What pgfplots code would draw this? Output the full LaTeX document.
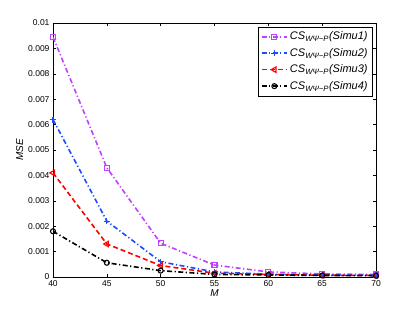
\documentclass[border=0pt]{standalone}
\usepackage{fontspec}
\setmainfont{Liberation Sans}
\usepackage{pgfplots}
\pgfplotsset{compat=1.18}
\definecolor{mpurple}{rgb}{0.75,0.25,1}
\definecolor{mblue}{rgb}{0.1,0.3,1}
\tikzset{mdashdot/.style={dash pattern=on 5pt off 2.5pt on 1.2pt off 2.5pt},
  mdashed/.style={dash pattern=on 5pt off 3pt}}
\begin{document}
\begin{tikzpicture}
\useasboundingbox (-53pt,-35pt) rectangle (362pt,277pt);
\begin{axis}[
  at={(0pt,0pt)}, anchor=origin,
  scale only axis, width=323pt, height=254pt,
  xmin=40, xmax=70, ymin=0, ymax=0.01,
  xtick={40,45,...,70},
  ytick={0,0.001,...,0.0101},
  yticklabels={0,0.001,0.002,0.003,0.004,0.005,0.006,0.007,0.008,0.009,0.01},
  scaled y ticks=false,
  tick align=inside,
  tick style={black, thin},
  major tick length=3pt,
  /pgf/number format/assume math mode=true,
  ticklabel style={font=\fontsize{8.5}{10}\selectfont},
  xlabel={\itshape M},
  ylabel={\itshape MSE},
  label style={font=\fontsize{10}{12}\selectfont},
  xlabel style={yshift=4pt},
  ylabel style={yshift=-2pt},
  legend style={at={(rel axis cs:0.99,0.985)}, anchor=north east, draw=black, font=\fontsize{11}{13}\selectfont\itshape, row sep=3pt, inner sep=3pt},
  legend cell align=left,
  legend image code/.code={\draw[mark repeat=2,mark phase=2,#1] plot coordinates {(0cm,0cm) (0.45cm,0cm) (0.9cm,0cm)};},
  every axis plot/.append style={line width=1.6pt},
]
\addplot[mpurple, mdashdot, mark=square, mark size=2.5pt, mark options={solid, line width=1.1pt}] coordinates {
(40,0.00945) (45,0.0043) (50,0.00133) (55,0.00047) (60,0.0002) (65,0.00012) (70,0.0001)};
\addlegendentry{CS\textsubscript{WΨ−P}(Simu1)}
\addplot[mblue, mdashdot, mark=+, mark size=3pt, mark options={solid, line width=1.1pt}] coordinates {
(40,0.0062) (45,0.0022) (50,0.0006) (55,0.0002) (60,0.00011) (65,0.00008) (70,0.00007)};
\addlegendentry{CS\textsubscript{WΨ−P}(Simu2)}
\addplot[red, mdashed, mark=triangle, mark size=3.2pt, mark options={solid, line width=1.1pt, rotate=90}] coordinates {
(40,0.0041) (45,0.0013) (50,0.00045) (55,0.00015) (60,0.0001) (65,0.00007) (70,0.00006)};
\addlegendentry{CS\textsubscript{WΨ−P}(Simu3)}
\addplot[black, mdashdot, mark=o, mark size=2.5pt, mark options={solid, line width=1.1pt}] coordinates {
(40,0.0018) (45,0.00056) (50,0.00025) (55,0.0001) (60,0.00008) (65,0.00006) (70,0.00005)};
\addlegendentry{CS\textsubscript{WΨ−P}(Simu4)}
\end{axis}
\end{tikzpicture}
\end{document}
